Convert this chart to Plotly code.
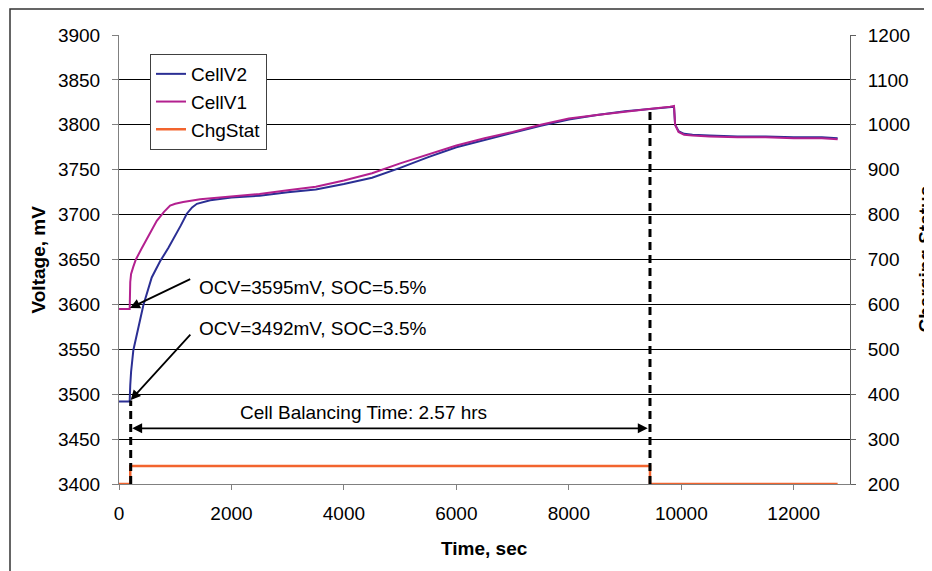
import plotly.graph_objects as go
from plotly.subplots import make_subplots

# ---- data ----
t_v1 = [0, 190, 200, 215, 255, 300, 400, 500, 672, 800, 909, 1000, 1141, 1444, 2000, 2500, 3000,
        3500, 4000, 4500, 5000, 5500, 6000, 6500, 7000, 7500, 8000, 8500, 9000, 9465, 9800,
        9870, 9890, 9950, 10050, 10200, 10500, 11000, 11500, 12000, 12500, 12780]
cell_v1 = [3595, 3595, 3625, 3634, 3642, 3650, 3662, 3674, 3693, 3703, 3710, 3712, 3714, 3717, 3720,
           3723, 3727, 3731, 3738, 3746, 3757, 3767, 3777, 3785, 3792, 3800, 3807, 3811, 3815,
           3818, 3820, 3821, 3800, 3792, 3789, 3788, 3787, 3786, 3786, 3785, 3785, 3784]

t_v2 = [0, 190, 200, 215, 255, 350, 433, 582, 731, 879, 1000, 1100, 1206, 1300, 1385, 1622, 2000,
        2500, 3000, 3500, 4000, 4500, 5000, 5500, 6000, 6500, 7000, 7500, 8000, 8500, 9000, 9465,
        9800, 9870, 9890, 9950, 10050, 10200, 10500, 11000, 11500, 12000, 12500, 12780]
cell_v2 = [3492, 3492, 3510, 3525, 3549, 3575, 3599, 3630, 3648, 3663, 3676, 3688, 3701, 3708, 3712,
           3716, 3719, 3721, 3725, 3728, 3734, 3741, 3752, 3764, 3775, 3783, 3791, 3799, 3806,
           3811, 3815, 3818, 3820, 3820, 3800, 3793, 3790, 3789, 3788, 3787, 3787, 3786, 3786, 3785]

t_chg = [0, 200, 9443, 12780]
chg_stat = [200, 240, 200, 200]

balance_start = 208
balance_end = 9443
ocv1_text = "OCV=3595mV, SOC=5.5%"
ocv2_text = "OCV=3492mV, SOC=3.5%"
balance_text = "Cell Balancing Time: 2.57 hrs"

FONT = "Liberation Sans, Arial, sans-serif"
BLUE = "#2B2F94"
MAGENTA = "#B3208F"
ORANGE = "#F2642E"

# plot area in screen pixels (page has an 8px body offset)
PL, PR, PT, PB = 119, 850, 35, 484
OFF = 8
W, H = 932, 571

fig = make_subplots(specs=[[{"secondary_y": True}]])
fig.add_trace(go.Scatter(x=t_v2, y=cell_v2, name="CellV2", mode="lines",
                         line=dict(color=BLUE, width=2)), secondary_y=False)
fig.add_trace(go.Scatter(x=t_v1, y=cell_v1, name="CellV1", mode="lines",
                         line=dict(color=MAGENTA, width=2)), secondary_y=False)
fig.add_trace(go.Scatter(x=t_chg, y=chg_stat, name="ChgStat", mode="lines", cliponaxis=False,
                         line=dict(color=ORANGE, width=2.5, shape="hv")), secondary_y=True)

pw, ph = PR - PL, PB - PT
fig.update_layout(
    width=W, height=H,
    margin=dict(l=PL - OFF, r=W + OFF - PR, t=PT - OFF, b=H + OFF - PB, autoexpand=False),
    paper_bgcolor="white", plot_bgcolor="white",
    font=dict(family=FONT, size=19, color="black"),
    showlegend=True,
    legend=dict(x=(150 - PL) / pw, y=(PB - 54) / ph, xanchor="left", yanchor="top",
                bgcolor="white", bordercolor="#404040", borderwidth=1,
                font=dict(size=19), tracegroupgap=0),
)
fig.update_xaxes(domain=[0, 1], range=[0, 13000], dtick=2000, tick0=0, tickformat="d",
                 showgrid=False, showline=True, linecolor="#808080", linewidth=1,
                 ticks="outside", ticklen=5, tickcolor="#808080",
                 zeroline=False, tickfont=dict(size=19), automargin=False,
                 layer="below traces", ticklabelstandoff=7)
fig.update_yaxes(range=[3400, 3900], dtick=50, showgrid=True, gridcolor="black", gridwidth=1,
                 showline=True, linecolor="#808080", linewidth=1,
                 ticks="outside", ticklen=6, tickcolor="#808080", zeroline=False,
                 ticklabelstandoff=8, tickfont=dict(size=19), automargin=False,
                 layer="below traces", secondary_y=False)
fig.update_yaxes(range=[200, 1200], dtick=100, showgrid=False,
                 showline=True, linecolor="#606060", linewidth=1,
                 ticks="outside", ticklen=5, tickcolor="#606060", zeroline=False,
                 ticklabelstandoff=8, tickfont=dict(size=19), automargin=False,
                 layer="below traces", secondary_y=True)

# dashed vertical markers
fig.add_shape(type="line", xref="x", yref="y", x0=balance_start, x1=balance_start,
              y0=3400, y1=3493, line=dict(color="black", width=3, dash="8px,5px"))
fig.add_shape(type="line", xref="x", yref="y", x0=balance_end, x1=balance_end,
              y0=3400, y1=3819, line=dict(color="black", width=3, dash="8px,5px"))

# outer frame
fig.add_shape(type="rect", xref="paper", yref="paper",
              x0=(10 - PL) / pw, x1=(960 - PL) / pw,
              y0=(PB - 600) / ph, y1=(PB - 9) / ph,
              line=dict(color="#333333", width=1.5), fillcolor="rgba(0,0,0,0)")

ann = []
# arrows
ann.append(dict(x=196, y=3596, ax=1293, ay=3629, xref="x", yref="y", axref="x", ayref="y",
                text="", showarrow=True, arrowhead=2, arrowsize=1.1, arrowwidth=1.8,
                arrowcolor="black"))
ann.append(dict(x=balance_start, y=3493.5, ax=1293, ay=3568, xref="x", yref="y", axref="x",
                ayref="y", text="", showarrow=True, arrowhead=2, arrowsize=1.1, arrowwidth=1.8,
                arrowcolor="black"))
ann.append(dict(x=balance_end - 40, y=3462, ax=balance_start, ay=3462, xref="x", yref="y",
                axref="x", ayref="y", text="", showarrow=True, arrowhead=2, arrowside="end+start",
                arrowsize=1.1, arrowwidth=1.8, arrowcolor="black"))
# texts
ann.append(dict(x=1385, y=3619, xref="x", yref="y", text=ocv1_text, showarrow=False,
                xanchor="left", yanchor="middle", font=dict(size=19)))
ann.append(dict(x=1385, y=3573, xref="x", yref="y", text=ocv2_text, showarrow=False,
                xanchor="left", yanchor="middle", font=dict(size=19)))
ann.append(dict(x=2116, y=3480, xref="x", yref="y", text=balance_text, showarrow=False,
                xanchor="left", yanchor="middle", font=dict(size=19)))
# axis titles
ann.append(dict(x=(38 - PL) / pw, y=0.5, xref="paper", yref="paper", text="<b>Voltage, mV</b>",
                textangle=-90, showarrow=False, xanchor="center", yanchor="middle",
                font=dict(size=19)))
ann.append(dict(x=(925 - PL) / pw, y=0.5, xref="paper", yref="paper",
                text="<b>Charging Status</b>", textangle=-90, showarrow=False,
                xanchor="center", yanchor="middle", font=dict(size=19)))
ann.append(dict(x=0.5, y=(PB - 548) / ph, xref="paper", yref="paper", text="<b>Time, sec</b>",
                showarrow=False, xanchor="center", yanchor="middle", font=dict(size=19)))
fig.update_layout(annotations=ann)

fig.write_html("out.html")
